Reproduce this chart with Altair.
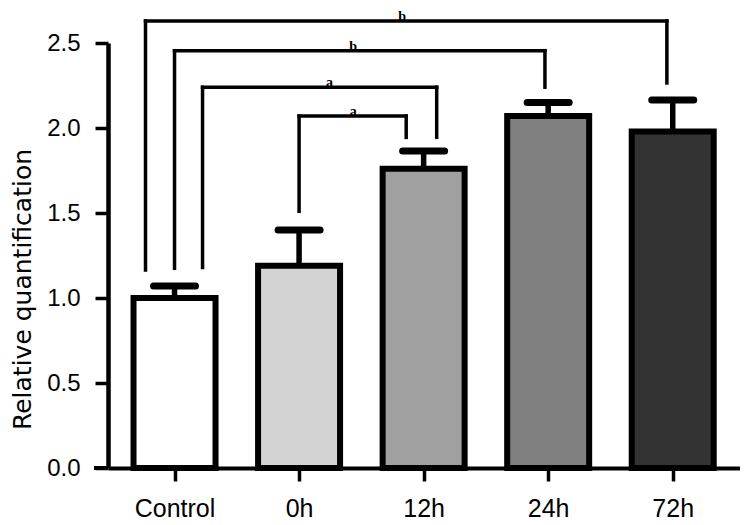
import altair as alt
import pandas as pd

# ---- data ----
categories = ["Control", "0h", "12h", "24h", "72h"]
positions = [0, 1, 2, 3, 4]
means = [1.00, 1.19, 1.76, 2.07, 1.98]
upper = [1.07, 1.40, 1.865, 2.15, 2.165]
fills = ["#ffffff", "#d3d3d3", "#a0a0a0", "#808080", "#333333"]

# significance brackets (x in category-position units)
br_left = [-0.233, 0.0, 0.225, 1.0]
br_right = [3.953, 2.974, 2.105, 1.86]
br_top = [2.63, 2.455, 2.24, 2.07]
br_left_bottom = [1.165, 1.175, 1.18, 1.51]
br_right_bottom = [2.265, 2.24, 1.945, 1.945]
br_label = ["b", "b", "a", "a"]
br_label_x = [1.828, 1.434, 1.244, 1.434]

y_ticks = [0.0, 0.5, 1.0, 1.5, 2.0, 2.5]

bars = pd.DataFrame({"cat": categories, "pos": positions, "mean": means,
                     "upper": upper, "fill": fills})
brk = pd.DataFrame({"left": br_left, "right": br_right, "top": br_top,
                    "lb": br_left_bottom, "rb": br_right_bottom,
                    "label": br_label, "tx": br_label_x})

label_expr = "[" + ",".join("'%s'" % c for c in categories) + "][datum.value]"

xscale = alt.Scale(domain=[-0.494, 4.5], nice=False, zero=False)
yscale = alt.Scale(domain=[0, 2.5], nice=False)

xaxis = alt.Axis(values=positions, labelExpr=label_expr, title=None, grid=False,
                 domainWidth=4, domainColor="black", tickColor="black",
                 tickWidth=3.5, tickSize=13, labelFontSize=25,
                 labelFont="Liberation Sans", labelColor="black",
                 labelPadding=15)
yaxis = alt.Axis(values=y_ticks, format=".1f", title="Relative quantification",
                 grid=False, domainWidth=4.5, domainColor="black",
                 tickColor="black", tickWidth=3.5, tickSize=13,
                 labelFontSize=24, labelFont="Liberation Sans",
                 labelColor="black", labelPadding=15,
                 titleFont="DejaVu Sans", titleFontSize=25,
                 titleFontWeight="normal", titleColor="black",
                 titleX=-86, titleY=246, titleBaseline="middle")

base = alt.Chart(bars)

stem = base.mark_rule(color="black", strokeWidth=5.5).encode(
    x=alt.X("pos:Q", scale=xscale, axis=xaxis),
    y=alt.Y("mean:Q", scale=yscale, axis=yaxis),
    y2="upper:Q",
)
cap = base.mark_rule(color="black", strokeWidth=7, strokeCap="round",
                     xOffset=-21, x2Offset=21).encode(
    x="pos:Q", x2="pos:Q", y="upper:Q",
)
bar = base.mark_bar(size=82, stroke="black", strokeWidth=6,
                    strokeJoin="miter").encode(
    x="pos:Q",
    y=alt.Y("mean:Q"),
    y2=alt.datum(0),
    fill=alt.Fill("fill:N", scale=None),
)

bb = alt.Chart(brk)
hline = bb.mark_rule(color="black", strokeWidth=3.5, strokeCap="square").encode(
    x="left:Q", x2="right:Q", y="top:Q")
lline = bb.mark_rule(color="black", strokeWidth=3.5, strokeCap="square").encode(
    x="left:Q", y="top:Q", y2="lb:Q")
rline = bb.mark_rule(color="black", strokeWidth=3.5, strokeCap="square").encode(
    x="right:Q", y="top:Q", y2="rb:Q")
btxt = bb.mark_text(font="Liberation Serif", fontWeight="bold", fontSize=14,
                    baseline="alphabetic", dy=0, color="black").encode(
    x="tx:Q", y="top:Q", text="label:N")

# x axis line extends slightly to the left of the y axis
xext = alt.Chart(pd.DataFrame({"v": [0]})).mark_rule(
    color="black", strokeWidth=4).encode(
    y=alt.Y("v:Q"), x=alt.value(-14), x2=alt.value(0))

chart = alt.layer(stem, cap, bar, hline, lline, rline, btxt, xext).properties(
    width=632, height=425,
    autosize=alt.AutoSizeParams(type="none"),
    padding={"left": 100, "top": 35, "right": 0, "bottom": 52},
).configure(background="white", view=alt.ViewConfig(stroke=None))

chart.save("out.html", embed_options={"renderer": "svg", "actions": False})
